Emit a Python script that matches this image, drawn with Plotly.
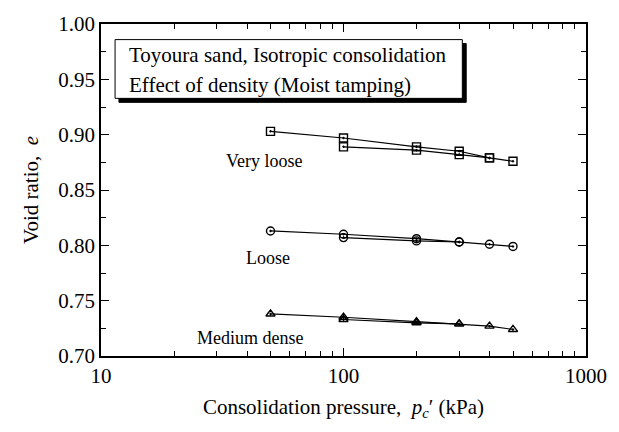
import math
import plotly.graph_objects as go

# Consolidation pressure steps (kPa)
p_main = [50, 100, 200, 300, 400, 500]
p_second = [100, 200, 300, 400]
p_second_short = [100, 200, 300]

# Void ratio, very loose specimens
e_vloose_a = [0.903, 0.897, 0.889, 0.885, 0.879, 0.876]
e_vloose_b = [0.889, 0.886, 0.882, 0.879]

# Void ratio, loose specimens
e_loose_a = [0.813, 0.810, 0.806, 0.803, 0.801, 0.799]
e_loose_b = [0.807, 0.804, 0.803]

# Void ratio, medium dense specimens
e_mdense_a = [0.738, 0.735, 0.731, 0.729, 0.727, 0.724]
e_mdense_b = [0.733, 0.730, 0.729]

group_labels = ["Very loose", "Loose", "Medium dense"]
label_p = [47, 49, 41]
label_e = [0.876, 0.789, 0.716]

FONT = "Liberation Serif, Times New Roman, serif"

fig = go.Figure()

series = [
    (p_main, e_vloose_a, "square-open-dot"),
    (p_second, e_vloose_b, "square-open-dot"),
    (p_main, e_loose_a, "circle-open-dot"),
    (p_second_short, e_loose_b, "circle-open-dot"),
    (p_main, e_mdense_a, "triangle-up-open-dot"),
    (p_second_short, e_mdense_b, "triangle-up-open-dot"),
]
for x, y, sym in series:
    fig.add_trace(go.Scatter(
        x=x, y=y, mode="lines+markers",
        line=dict(color="black", width=1.2),
        marker=dict(symbol=sym, size=8, color="black", line=dict(width=1.4, color="black")),
        showlegend=False,
    ))

# Group labels (annotation x on a log axis is given as log10)
for txt, px, ey in zip(group_labels, label_p, label_e):
    fig.add_annotation(x=math.log10(px), y=ey, xref="x", yref="y", text=txt, showarrow=False,
                       xanchor="center", yanchor="middle",
                       font=dict(family=FONT, size=18, color="black"))

# Caption box with drop shadow
fig.add_shape(type="rect", xref="paper", yref="paper",
              x0=0.037, x1=0.753, y0=0.764, y1=0.941,
              fillcolor="black", line=dict(color="black", width=1))
fig.add_shape(type="rect", xref="paper", yref="paper",
              x0=0.029, x1=0.745, y0=0.776, y1=0.953,
              fillcolor="white", line=dict(color="black", width=1))
fig.add_annotation(x=0.053, y=0.908, xref="paper", yref="paper",
                   text="Toyoura sand, Isotropic consolidation", showarrow=False,
                   xanchor="left", yanchor="middle",
                   font=dict(family=FONT, size=21, color="black"))
fig.add_annotation(x=0.053, y=0.816, xref="paper", yref="paper",
                   text="Effect of density (Moist tamping)", showarrow=False,
                   xanchor="left", yanchor="middle",
                   font=dict(family=FONT, size=21, color="black"))

fig.update_layout(
    width=619, height=432,
    margin=dict(l=101, r=31, t=17, b=76),
    paper_bgcolor="white", plot_bgcolor="white",
    font=dict(family=FONT, size=21, color="black"),
    xaxis=dict(
        type="log", range=[1, 3],
        tickvals=[10, 100, 1000], ticktext=["10", "100", "1000"],
        ticks="inside", ticklen=8, tickwidth=1.2, tickcolor="black",
        minor=dict(ticks="inside", ticklen=5, tickwidth=1, tickcolor="black",
                   tickvals=[20, 30, 40, 50, 60, 70, 80, 90, 200, 300, 400, 500, 600, 700, 800, 900]),
        showline=True, linecolor="black", linewidth=1.5, mirror="allticks",
        showgrid=False, zeroline=False,
        tickfont=dict(family=FONT, size=21),
        title=dict(text="Consolidation pressure,  <i>p<sub>c</sub></i>′ (kPa)",
                   font=dict(family=FONT, size=21), standoff=12),
    ),
    yaxis=dict(
        range=[0.70, 1.00], dtick=0.05, tick0=0.70, tickformat=".2f",
        ticks="inside", ticklen=8, tickwidth=1.2, tickcolor="black",
        minor=dict(ticks="inside", ticklen=5, tickwidth=1, tickcolor="black", dtick=0.025),
        showline=True, linecolor="black", linewidth=1.5, mirror="allticks",
        showgrid=False, zeroline=False,
        tickfont=dict(family=FONT, size=21),
        title=dict(text="Void ratio,  <i>e</i>", font=dict(family=FONT, size=21), standoff=14),
    ),
)

fig.write_html("out.html")
